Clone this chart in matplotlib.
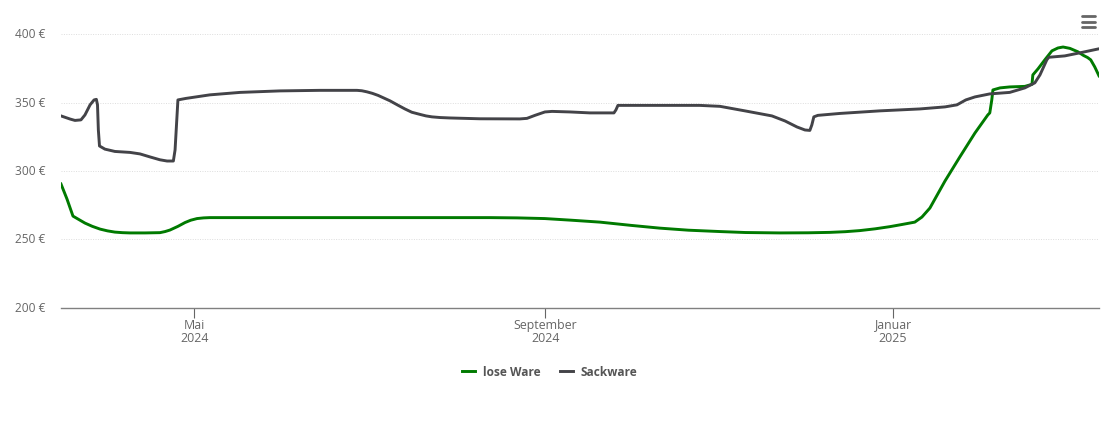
import pandas as pd
from matplotlib import pyplot as plt
from matplotlib.lines import Line2D
from matplotlib.transforms import ScaledTranslation

plt.rcParams['font.family'] = ['Open Sans', 'DejaVu Sans']

start = pd.Timestamp('2024-03-15 06:00')
end = start + pd.Timedelta(days=364)

#days since start and price
lose_days = [0, 2.1, 4.2, 8.4, 11, 13.7, 16.3, 18.9, 21.5, 24.2, 29.5, 34.7, 36.5, 38.2, 41, 43.5, 45.5, 47.7, 50, 52.2,
             84.1, 150.4, 160, 169.7, 179, 189, 200, 210, 220, 231.1, 240, 252.1, 262, 269.6, 275, 280.1, 285.5,
             290.7, 295, 299.4, 301.9, 304.7, 310, 315.2, 320.5,
             325, 325.7, 326.4, 326.8, 329.3, 332.7, 338, 340.5, 340.8, 342.6, 345, 347.5, 349.6,
             351.4, 353.8, 356.6, 358.5, 360, 361.1, 362.5, 364]
lose_price = [290.5, 279.5, 267, 261.9, 259.5, 257.5, 256.2, 255.3, 254.9, 254.7, 254.7, 254.9, 255.7, 256.8, 259.5, 262.3, 264, 265.2, 265.7, 265.9,
              265.9, 265.9, 265.7, 265.2, 264, 262.6, 260.2, 258.2, 256.7, 255.7, 255, 254.7, 254.8, 255.1, 255.6, 256.4, 257.7,
              259.3, 260.9, 262.6, 266.3, 272.9, 292.7, 310.3, 327.8,
              341, 342.5, 352, 359.3, 360.8, 361.5, 361.9, 363.4, 370.3, 374.7, 381.3, 387.9, 390,
              390.7, 389.7, 387.2, 384.6, 383, 381.3, 376.2, 369.6]

sack_days = [0, 3.2, 4.9, 7, 8.4, 10.2, 11.6, 12.4, 12.8, 13.1, 13.5, 15.4, 18.9, 24.2, 27.7, 31.2, 34.7, 37.2,
             39.4, 40, 40.5, 41, 43.8, 52.2, 62.8, 76.8, 90.8, 103.8, 105.5, 107.3, 109.2, 111.2, 113.2, 115.4, 118, 120.6, 123, 125.9,
             128, 130.1, 133, 136.4, 146.9, 160.9, 163.4, 166.2, 169.7, 172.2, 178.5, 185.5, 193.9, 194.6, 195.3,
             203, 224, 231.1, 239.8, 249.3, 253.9, 258.1, 260.9, 262.6, 263.3, 264, 265.4, 273.1, 287.2,
             301.2, 310, 314.2, 317.3, 320.5, 325.7, 332.7, 338, 341.5, 343.3, 345.7, 346.4, 352, 357.2, 364]
sack_price = [340.3, 338, 337, 337.4, 341, 348.4, 352, 352.4, 348.4, 330, 318.3, 316, 314.3, 313.6, 312.5, 310.3, 308.2, 307.3,
              307.3, 315.4, 333.7, 352, 353.1, 355.7, 357.5, 358.6, 359, 359, 358.7, 357.9, 356.8, 355.3, 353.4, 351.3, 348.3, 345.4, 343, 341.4,
              340.3, 339.6, 339.1, 338.8, 338.2, 338.1, 338.5, 340.7, 343.2, 343.6, 343.2, 342.5, 342.5, 344.7, 348,
              348, 348, 347.3, 344, 340.3, 336.6, 332.2, 330, 329.7, 333.7, 339.6, 340.7, 342.1, 344,
              345.4, 346.9, 348.4, 352, 354.2, 356.4, 357.5, 360.8, 364.5, 370.3, 381.3, 383.2, 384.2, 386.4, 389.4]

y_ticks = [200, 250, 300, 350, 400]
x_ticks = ['2024-05-01', '2024-09-01', '2025-01-01']
x_labels = ['Mai\n2024', 'September\n2024', 'Januar\n2025']

W, H = 1110, 422
fig = plt.figure(figsize=(W / 100, H / 100), dpi=100)
ax = fig.add_axes([61 / W, (H - 307.7) / H, 1038 / W, 273.4 / H])

lose_dates = start + pd.to_timedelta(lose_days, unit='D')
sack_dates = start + pd.to_timedelta(sack_days, unit='D')
ax.plot(lose_dates, lose_price, color='#007a00', lw=2.1, label='lose Ware', solid_joinstyle='round', zorder=3)
ax.plot(sack_dates, sack_price, color='#434348', lw=2.1, label='Sackware', solid_joinstyle='round', zorder=4)

ax.set_xlim(start, end)
ax.set_ylim(200, 400)

ax.set_yticks(y_ticks)
ax.set_yticklabels(['%d €' % v for v in y_ticks])
ax.set_xticks(pd.to_datetime(x_ticks))
ax.set_xticklabels(x_labels, linespacing=1.05)
ax.tick_params(axis='y', length=0, pad=11, labelsize=8.6, labelcolor='#666666')
ax.tick_params(axis='x', length=7.2, width=0.8, color='#666666', pad=0.6, labelsize=8.9, labelcolor='#666666')

#y labels sit a little above their gridlines
for lbl in ax.get_yticklabels():
    lbl.set_transform(lbl.get_transform() + ScaledTranslation(0, 0.8 / 72, fig.dpi_scale_trans))

ax.grid(axis='y', color='#dddddd', lw=0.7, ls=(0, (1, 1.5)))
ax.set_axisbelow(True)
for s in ['top', 'left', 'right']:
    ax.spines[s].set_visible(False)
ax.spines['bottom'].set_color('#808080')
ax.spines['bottom'].set_linewidth(1.0)

leg = ax.legend(loc='center', bbox_to_anchor=(550 / W, 50 / H), bbox_transform=fig.transFigure, ncol=2,
                frameon=False, handlelength=1.1, handletextpad=0.65, columnspacing=1.6,
                prop={'size': 8.6, 'weight': 'bold'}, labelcolor='#555555')

#menu icon top right
for y in [16, 21.5, 26.5]:
    fig.add_artist(Line2D([1081.5 / W, 1094.5 / W], [(H - y) / H, (H - y) / H], color='#666666', lw=2.0,
                          solid_capstyle='round'))

fig.savefig('out.png', dpi=100)
